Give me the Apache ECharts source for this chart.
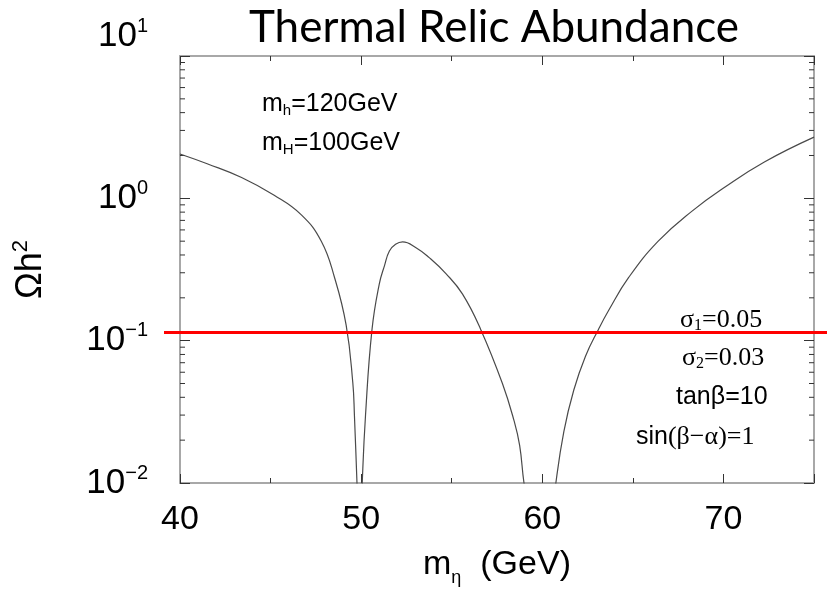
<!DOCTYPE html>
<html>
<head>
<meta charset="utf-8">
<script src="https://cdn.jsdelivr.net/npm/echarts@6/dist/echarts.min.js"></script>
<style>html,body{margin:0;padding:0;background:#fff;}#c{width:827px;height:592px;}</style>
</head>
<body>
<div id="c"></div>
<script>
// ---- data ----
const massGeV = [40, 41.5, 43.4, 45.2, 46.7, 47.8, 48.53, 49.17, 49.54, 49.63, 49.77, 49.92, 50.06, 50.24, 50.6, 51.0, 51.29, 51.56, 51.9, 52.29, 53.03, 53.76, 54.68, 55.59, 56.6, 57.8, 58.44, 58.75, 58.99, 59.5, 60.0, 60.4, 60.75, 61.19, 61.74, 62.38, 63.1, 63.66, 64.77, 66.4, 68.25, 70.09, 72.26, 75];
const omegaH2 = [2.05, 1.75, 1.40, 1.05, 0.765, 0.5, 0.278, 0.129, 0.0506, 0.0297, 0.01, 0.003, 0.01, 0.0297, 0.12, 0.25, 0.337, 0.426, 0.475, 0.494, 0.45, 0.383, 0.296, 0.213, 0.12, 0.05, 0.0274, 0.0184, 0.01, 0.004, 0.0025, 0.004, 0.01, 0.023, 0.045, 0.0775, 0.12, 0.163, 0.278, 0.5, 0.81, 1.2, 1.8, 2.69];
const relicLevel = 0.12;
const yMinorTicks = [0.02,0.03,0.04,0.05,0.06,0.07,0.08,0.09,0.2,0.3,0.4,0.5,0.6,0.7,0.8,0.9,2,3,4,5,6,7,8,9];
const yExponentLabels = {'0.01':'−2','0.1':'−1','1':'0','10':'1'};

const chart = echarts.init(document.getElementById('c'));
const lab = {fontFamily:'Liberation Sans, Arial', color:'#000'};
const serif = {fontFamily:'Liberation Serif', color:'#000'};
const option = {
  animation:false,
  title:{text:'Thermal Relic Abundance', left:244, top:1,
    textStyle:{fontFamily:'Lato', fontWeight:'normal', fontSize:44, color:'#000'}},
  grid:[
    {left:180, right:13, top:56, bottom:104},
    {left:164, right:0, top:56, bottom:104}
  ],
  xAxis:[
    {type:'value', gridIndex:0, min:40, max:75, interval:10, position:'bottom',
     axisLine:{show:true, lineStyle:{color:'#a8a8a8', width:2}},
     axisTick:{show:true, inside:true, length:9, lineStyle:{color:'#333', width:1}},
     minorTick:{show:true, splitNumber:2, length:5, lineStyle:{color:'#333', width:1}},
     splitLine:{show:false},
     axisLabel:{margin:20, fontSize:34, ...lab, showMaxLabel:false},
     name:'{m|m}{s|η}{n|  (GeV)}', nameLocation:'middle', nameGap:60,
     nameTextStyle:{rich:{
       m:{fontSize:34, ...lab}, s:{fontSize:18, ...lab, padding:[26,0,0,0]}, n:{fontSize:34, ...lab}}}
    },
    {type:'value', gridIndex:0, min:40, max:75, interval:10, position:'top',
     axisLine:{show:true, lineStyle:{color:'#a8a8a8', width:2}},
     axisTick:{show:true, inside:true, length:9, lineStyle:{color:'#333', width:1}},
     minorTick:{show:true, splitNumber:2, length:5, lineStyle:{color:'#333', width:1}},
     splitLine:{show:false}, axisLabel:{show:false}
    },
    {type:'value', gridIndex:1, min:0, max:1, show:false}
  ],
  yAxis:[
    {type:'log', gridIndex:0, min:0.01, max:10, logBase:10, position:'left',
     axisLine:{show:true, lineStyle:{color:'#a8a8a8', width:2}},
     axisTick:{show:true, inside:true, length:10, lineStyle:{color:'#333', width:1}},
     splitLine:{show:false},
     axisLabel:{margin:32, formatter:function(v){
        const e = yExponentLabels[String(+v.toPrecision(3))];
        if (e === '1') return '{b|10}{s|' + e + '}\n{g|}';
        return '{b|10}{s|' + e + '}';
      },
      rich:{b:{fontSize:35, ...lab}, s:{fontSize:20, ...lab, padding:[0,0,20,0]}, g:{height:40, lineHeight:40}}},
     name:'{o|Ωh}{s|2}', nameLocation:'middle', nameGap:128, nameRotate:90,
     nameTextStyle:{rich:{o:{fontSize:36, ...lab}, s:{fontSize:22, ...lab, padding:[0,0,20,0]}}}
    },
    {type:'log', gridIndex:0, min:0.01, max:10, logBase:10, position:'right',
     axisLine:{show:true, lineStyle:{color:'#a8a8a8', width:2}},
     axisTick:{show:true, inside:true, length:10, lineStyle:{color:'#333', width:1}},
     splitLine:{show:false}, axisLabel:{show:false}
    },
    {type:'log', gridIndex:1, min:0.01, max:10, logBase:10, show:false}
  ],
  series:[
    {type:'line', xAxisIndex:0, yAxisIndex:0, data:massGeV.map((m,i)=>[m, omegaH2[i]]),
     showSymbol:false, smooth:0.45, clip:true, lineStyle:{color:'#4a4a4a', width:1.2}, z:3},
    {type:'line', xAxisIndex:2, yAxisIndex:2, data:[[0, relicLevel],[1, relicLevel]],
     showSymbol:false, lineStyle:{color:'#ff0000', width:3}, z:4},
    {type:'custom', xAxisIndex:0, yAxisIndex:0, clip:false, z:2,
     data:yMinorTicks.map(v=>[40, v]),
     renderItem:function(params, api){
       const y = api.coord([40, api.value(1)])[1];
       const cs = params.coordSys;
       const st = {stroke:'#333', lineWidth:1};
       return {type:'group', children:[
         {type:'line', shape:{x1:cs.x, y1:y, x2:cs.x+5, y2:y}, style:st},
         {type:'line', shape:{x1:cs.x+cs.width-5, y1:y, x2:cs.x+cs.width, y2:y}, style:st}
       ]};
     }}
  ],
  graphic:[
    {type:'text', left:262, top:92, style:{rich:{
      m:{fontSize:25, ...lab}, s:{fontSize:15, ...lab, padding:[13,0,0,0]}},
      text:'{m|m}{s|h}{m|=120GeV}'}},
    {type:'text', left:262, top:131, style:{rich:{
      m:{fontSize:25, ...lab}, s:{fontSize:15, ...lab, padding:[13,0,0,0]}},
      text:'{m|m}{s|H}{m|=100GeV}'}},
    {type:'text', left:680, top:307, style:{rich:{
      m:{fontSize:26, ...serif}, s:{fontSize:16, ...serif, padding:[12,0,0,0]}},
      text:'{m|σ}{s|1}{m|=0.05}'}},
    {type:'text', left:682, top:345, style:{rich:{
      m:{fontSize:26, ...serif}, s:{fontSize:16, ...serif, padding:[12,0,0,0]}},
      text:'{m|σ}{s|2}{m|=0.03}'}},
    {type:'text', left:676, top:385, style:{rich:{
      m:{fontSize:25, ...lab}},
      text:'{m|tanβ=10}'}},
    {type:'text', left:636, top:424, style:{rich:{
      a:{fontSize:25, ...lab}, b:{fontSize:26, ...serif}},
      text:'{a|sin}{b|(β−α)=1}'}}
  ]
};
chart.setOption(option);
</script>
</body>
</html>
